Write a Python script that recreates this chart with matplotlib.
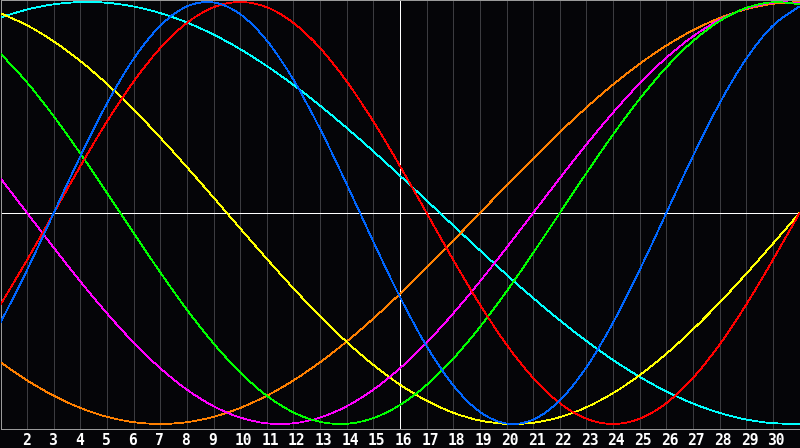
import matplotlib
matplotlib.use("Agg")
import matplotlib.pyplot as plt
from matplotlib.path import Path
from matplotlib.patches import PathPatch
from matplotlib.transforms import ScaledTranslation

# ---- data ----
days = list(range(1, 32))
tick_days = list(range(2, 31))
tick_labels = [str(d) for d in tick_days]
today = 16

physical = [-0.5196, -0.2698, 0.0, 0.2698, 0.5196, 0.7308, 0.8879, 0.9791, 0.9977, 0.9423,
            0.8170, 0.6311, 0.3984, 0.1362, -0.1362, -0.3984, -0.6311, -0.8170, -0.9423, -0.9977,
            -0.9791, -0.8879, -0.7308, -0.5196, -0.2698, 0.0, 0.2698, 0.5196, 0.7308, 0.8879, 0.9791]
emotional = [-0.4339, -0.2225, 0.0, 0.2225, 0.4339, 0.6235, 0.7818, 0.9010, 0.9749, 1.0,
             0.9749, 0.9010, 0.7818, 0.6235, 0.4339, 0.2225, 0.0, -0.2225, -0.4339, -0.6235,
             -0.7818, -0.9010, -0.9749, -1.0, -0.9749, -0.9010, -0.7818, -0.6235, -0.4339, -0.2225, 0.0]
intellectual = [0.7557, 0.6182, 0.4582, 0.2817, 0.0951, -0.0951, -0.2817, -0.4582, -0.6182, -0.7557,
                -0.8660, -0.9450, -0.9898, -0.9989, -0.9718, -0.9096, -0.8147, -0.6901, -0.5406, -0.3717,
                -0.1893, 0.0, 0.1893, 0.3717, 0.5406, 0.6901, 0.8147, 0.9096, 0.9718, 0.9989, 0.9898]
intuitive = [0.1646, 0.0, -0.1646, -0.3247, -0.4759, -0.6142, -0.7357, -0.8372, -0.9158, -0.9694,
             -0.9966, -0.9966, -0.9694, -0.9158, -0.8372, -0.7357, -0.6142, -0.4759, -0.3247, -0.1646,
             0.0, 0.1646, 0.3247, 0.4759, 0.6142, 0.7357, 0.8372, 0.9158, 0.9694, 0.9966, 0.9966]
aesthetic = [0.9465, 0.8893, 0.8133, 0.7199, 0.6112, 0.4894, 0.3572, 0.2174, 0.0730, -0.0730,
             -0.2174, -0.3572, -0.4894, -0.6112, -0.7199, -0.8133, -0.8893, -0.9465, -0.9834, -0.9993,
             -0.9940, -0.9675, -0.9204, -0.8536, -0.7687, -0.6673, -0.5517, -0.4245, -0.2881, -0.1456, 0.0]
awareness = [-0.7071, -0.7934, -0.8660, -0.9239, -0.9659, -0.9914, -1.0, -0.9914, -0.9659, -0.9239,
             -0.8660, -0.7934, -0.7071, -0.6088, -0.5, -0.3827, -0.2588, -0.1305, 0.0, 0.1305,
             0.2588, 0.3827, 0.5, 0.6088, 0.7071, 0.7934, 0.8660, 0.9239, 0.9659, 0.9914, 1.0]
spiritual = [0.9267, 0.9646, 0.9890, 0.9996, 0.9961, 0.9786, 0.9473, 0.9028, 0.8456, 0.7765,
             0.6966, 0.6068, 0.5085, 0.4031, 0.2921, 0.1769, 0.0592, -0.0592, -0.1769, -0.2921,
             -0.4031, -0.5085, -0.6068, -0.6966, -0.7765, -0.8456, -0.9028, -0.9473, -0.9786, -0.9961, -0.9996]

series = [
    (spiritual, "#00FFFF"),
    (awareness, "#FF8000"),
    (aesthetic, "#FFFF00"),
    (intuitive, "#FF00FF"),
    (intellectual, "#00FF00"),
    (emotional, "#FF0000"),
    (physical, "#0066FF"),
]


def smooth_path(xs, ys):
    """Catmull-Rom spline through the data points, as cubic Bezier segments."""
    pts = list(zip(xs, ys))
    n = len(pts)
    verts = [pts[0]]
    codes = [Path.MOVETO]
    for i in range(n - 1):
        p0 = pts[i - 1] if i > 0 else pts[i]
        p1 = pts[i]
        p2 = pts[i + 1]
        p3 = pts[i + 2] if i + 2 < n else pts[i + 1]
        c1 = (p1[0] + (p2[0] - p0[0]) / 6.0, p1[1] + (p2[1] - p0[1]) / 6.0)
        c2 = (p2[0] - (p3[0] - p1[0]) / 6.0, p2[1] - (p3[1] - p1[1]) / 6.0)
        verts += [c1, c2, p2]
        codes += [Path.CURVE4] * 3
    return Path(verts, codes)


BG = "#050508"
PX = 0.72  # one pixel in points at 100 dpi
fig = plt.figure(figsize=(8, 4.48), dpi=100, facecolor=BG)
ax = fig.add_axes([0.5 / 800, 19.5 / 448, 799 / 800, 428 / 448])
ax.set_facecolor(BG)
ax.set_xlim(days[0], days[-1])
ax.set_ylim(-1.0213, 1.0071)

for d in tick_days:
    ax.axvline(d, color="#3c3c40", lw=PX, zorder=1, antialiased=False)
ax.axvline(today, color="white", lw=PX, zorder=2, antialiased=False)
ax.axhline(0, color="white", lw=PX, zorder=2, antialiased=False)

for vals, col in series:
    ax.add_patch(PathPatch(smooth_path(days, vals), facecolor="none", edgecolor=col,
                           lw=0.55, zorder=3, antialiased=False))

for s in ax.spines.values():
    s.set_color("#9a9a9a")
    s.set_linewidth(PX)

ax.set_yticks([])
ax.set_xticks(tick_days)
ax.set_xticklabels(tick_labels, fontfamily="DejaVu Sans Mono", fontweight="bold")
ax.tick_params(axis="x", length=0, pad=3.0, colors="white", labelsize=10.5)
off = ScaledTranslation(-5.5 / 100, 0, fig.dpi_scale_trans)
for lab in ax.get_xticklabels():
    lab.set_ha("left")
    lab.set_transform(lab.get_transform() + off)

fig.savefig("out.png", dpi=100, facecolor=BG)
